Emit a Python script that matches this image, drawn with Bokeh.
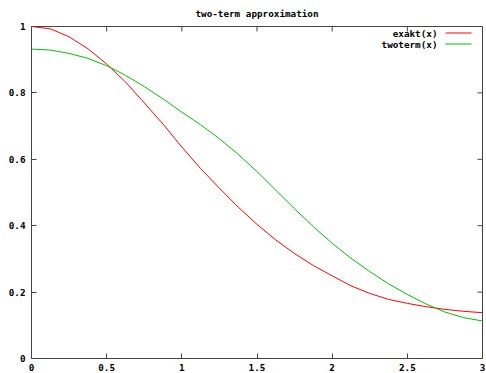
import math
from bokeh.plotting import figure
from bokeh.models import Range1d, Label, Arrow, FixedTicker
from bokeh.embed import file_html
from bokeh.resources import INLINE

# Data
x_vals = [0.0, 0.125, 0.25, 0.375, 0.5, 0.625, 0.75, 0.875, 1.0, 1.125, 1.25, 1.375,
          1.5, 1.625, 1.75, 1.875, 2.0, 2.125, 2.25, 2.375, 2.5, 2.625, 2.75, 2.875, 3.0]
exakt = [1.0, 0.993, 0.969, 0.933, 0.887, 0.833, 0.770, 0.706, 0.637, 0.572, 0.513, 0.456,
         0.404, 0.357, 0.316, 0.280, 0.249, 0.219, 0.196, 0.178, 0.166, 0.156, 0.148, 0.142, 0.138]
twoterm = [0.932, 0.929, 0.919, 0.904, 0.882, 0.853, 0.819, 0.782, 0.742, 0.704, 0.662, 0.615,
           0.563, 0.507, 0.451, 0.397, 0.347, 0.302, 0.262, 0.225, 0.193, 0.164, 0.140, 0.123, 0.113]

x_ticks = [0, 0.5, 1, 1.5, 2, 2.5, 3]
x_tick_labels = ["0", "0.5", "1", "1.5", "2", "2.5", "3"]
y_ticks = [0, 0.2, 0.4, 0.6, 0.8, 1]
y_tick_labels = ["0", "0.2", "0.4", "0.6", "0.8", "1"]

title_text = "two-term approximation"
series_names = ["exakt(x)", "twoterm(x)"]
series_colors = ["#ff0000", "#00c000"]

FONT = "DejaVu Sans Mono"
FS = "9.3px"
AX_COLOR = "#444444"

p = figure(width=486, height=373, output_backend="svg", toolbar_location=None,
           x_range=Range1d(0, 3), y_range=Range1d(0, 1),
           min_border_left=31, min_border_right=4, min_border_top=26, min_border_bottom=14,
           background_fill_color="white", border_fill_color="white")

p.title.text = title_text
p.title.align = "center"
p.title.vertical_align = "top"
p.title.text_font = FONT
p.title.text_font_size = FS
p.title.text_font_style = "bold"
p.title.text_color = "black"
p.title.text_line_height = 0.7
p.title.standoff = 12
p.title.offset = 0

p.xgrid.visible = False
p.ygrid.visible = False
p.outline_line_color = AX_COLOR
p.outline_line_width = 1


def style_axis(ax, ticks, labels, standoff):
    ax.ticker = FixedTicker(ticks=ticks)
    ax.major_label_overrides = {t: l for t, l in zip(ticks, labels)}
    ax.minor_tick_line_color = None
    ax.major_tick_in = 5
    ax.major_tick_out = 0
    ax.major_tick_line_color = AX_COLOR
    ax.axis_line_color = AX_COLOR
    ax.major_label_text_font = FONT
    ax.major_label_text_font_style = "bold"
    ax.major_label_text_font_size = FS
    ax.major_label_text_color = "black"
    ax.major_label_standoff = standoff


style_axis(p.xaxis[0], x_ticks, x_tick_labels, 5)
style_axis(p.yaxis[0], y_ticks, y_tick_labels, 6)

# mirrored inward ticks on the top and right edges of the frame
p.ray(x=x_ticks, y=[p.y_range.end] * len(x_ticks), length=5, length_units="screen",
      angle=-math.pi / 2, line_color=AX_COLOR, line_width=1)
p.ray(x=[p.x_range.end] * len(y_ticks), y=y_ticks, length=5, length_units="screen",
      angle=math.pi, line_color=AX_COLOR, line_width=1)

p.line(x_vals, exakt, line_color=series_colors[0], line_width=1)
p.line(x_vals, twoterm, line_color=series_colors[1], line_width=1)

# gnuplot-style key: right-aligned label with the line sample to its right
# (screen units relative to the plot frame, y measured up from the frame bottom)
key_rows_y = [325.5, 314.5]
for name, color, ky in zip(series_names, series_colors, key_rows_y):
    p.add_layout(Label(x=406, y=ky, x_units="screen", y_units="screen", text=name,
                       text_align="right", text_baseline="middle", text_font=FONT,
                       text_font_size=FS, text_font_style="bold", text_color="black"))
    p.add_layout(Arrow(end=None, x_start=414, y_start=ky, x_end=440, y_end=ky,
                       start_units="screen", end_units="screen",
                       line_color=color, line_width=1))

open("out.html", "w").write(file_html(p, INLINE))
